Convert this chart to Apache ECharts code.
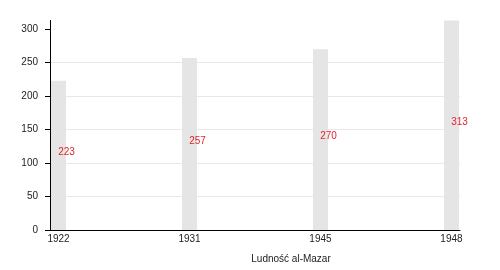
<!DOCTYPE html>
<html><head><meta charset="utf-8">
<script src="https://cdn.jsdelivr.net/npm/echarts@6/dist/echarts.min.js"></script>
<style>html,body{margin:0;padding:0;background:#fff}#c{width:500px;height:270px}</style>
</head><body><div id="c"></div>
<script>
const years = ['1922', '1931', '1945', '1948'];
const population = [223, 257, 270, 313];
const yTicks = [0, 50, 100, 150, 200, 250, 300];
const xTitle = 'Ludność al-Mazar';

const font = 'Liberation Sans, Arial, sans-serif';
const chart = echarts.init(document.getElementById('c'), null, {renderer: 'canvas'});
chart.setOption({
  animation: false,
  backgroundColor: '#fff',
  title: {
    text: xTitle, left: 291, top: 254, textAlign: 'center', padding: 0,
    textStyle: {fontFamily: font, fontSize: 10, fontWeight: 'normal', color: '#222'}
  },
  grid: {left: 50, right: 40, top: 20.5, bottom: 40, containLabel: false},
  xAxis: {
    type: 'value', min: -0.065, max: 3.065,
    axisLine: {show: true, onZero: false, lineStyle: {color: '#000', width: 1}},
    axisTick: {show: false},
    splitLine: {show: false},
    axisLabel: {
      customValues: years.map((y, i) => i),
      formatter: v => years[Math.round(v)] || '',
      margin: 4, color: '#222', fontFamily: font, fontSize: 10
    }
  },
  yAxis: {
    type: 'value', min: 0, max: 313,
    axisLine: {show: true, onZero: false, lineStyle: {color: '#000', width: 1}},
    axisTick: {show: true, length: 5, customValues: yTicks, lineStyle: {color: '#000'}},
    splitLine: {show: true, showMaxLine: false, lineStyle: {color: '#e8e8e8', width: 1}},
    axisLabel: {customValues: yTicks, margin: 12, color: '#222', fontFamily: font, fontSize: 10}
  },
  series: [{
    type: 'bar',
    barWidth: 15,
    data: population.map((v, i) => [i, v]),
    itemStyle: {color: '#e5e5e5'},
    label: {
      show: true, position: 'inside', offset: [8, -3],
      color: '#e3242b', fontFamily: font, fontSize: 10
    }
  }]
});
</script></body></html>
